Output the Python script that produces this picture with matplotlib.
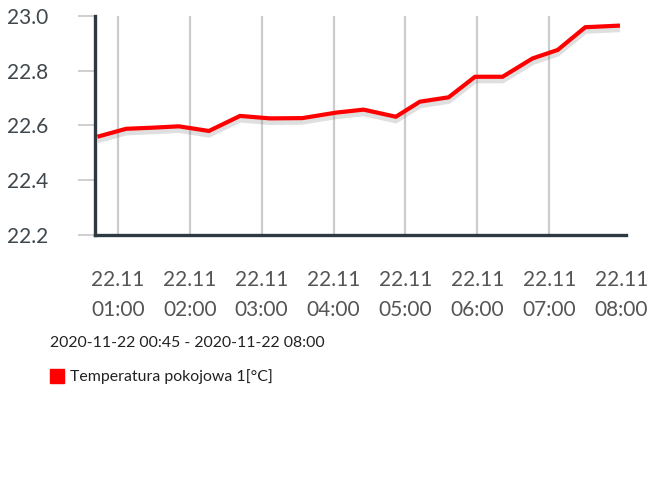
import matplotlib
matplotlib.use("Agg")
import matplotlib.pyplot as plt
import matplotlib.dates as mdates
import matplotlib.patheffects as pe
from matplotlib.patches import Rectangle
from datetime import datetime

plt.rcParams["font.family"] = ["Lato", "DejaVu Sans"]

DAY = "2020-11-22"
TIMES = ["00:43", "01:07", "01:29", "01:51", "02:16", "02:42", "03:07", "03:34",
         "04:02", "04:25", "04:52", "05:12", "05:36", "05:58", "06:21", "06:46",
         "07:07", "07:30", "07:59"]
VALUES = [22.559, 22.588, 22.592, 22.597, 22.580, 22.635, 22.626, 22.627,
          22.647, 22.658, 22.632, 22.687, 22.703, 22.778, 22.778, 22.845,
          22.876, 22.959, 22.965]
TICK_HOURS = ["01:00", "02:00", "03:00", "04:00", "05:00", "06:00", "07:00", "08:00"]
Y_TICKS = [22.2, 22.4, 22.6, 22.8, 23.0]
SERIES_NAME = "Temperatura pokojowa 1[°C]"
RANGE_TEXT = "2020-11-22 00:45 - 2020-11-22 08:00"

LINE_COLOR = "#ff0000"
AXIS_COLOR = "#2e3a42"
GRID_COLOR = "#cccccc"
LABEL_COLOR = "#555555"


def to_dt(hm):
    return datetime.strptime(f"{DAY} {hm}", "%Y-%m-%d %H:%M")


W, H = 656, 478
fig = plt.figure(figsize=(W / 100, H / 100), dpi=100)
ax = fig.add_axes([95 / W, 1 - 235 / H, (626 - 95) / W, (235 - 16) / H])

x = [to_dt(t) for t in TIMES]
ticks = [to_dt(t) for t in TICK_HOURS]

ax.plot(x, VALUES, color=LINE_COLOR, linewidth=3.0, solid_joinstyle="miter",
        solid_capstyle="butt", zorder=3,
        path_effects=[pe.SimpleLineShadow(offset=(0, -2.5), shadow_color="gray",
                                          alpha=0.25, linewidth=4.5),
                      pe.Normal()])

ax.set_xlim(to_dt("00:41"), to_dt("08:04"))
ax.set_ylim(22.2, 23.0)

# vertical grid lines at the hour ticks
for t in ticks[:-1]:
    ax.axvline(t, color=GRID_COLOR, linewidth=1.6, zorder=1)

ax.set_xticks(ticks)
ax.xaxis.set_major_formatter(mdates.DateFormatter("%d.%m\n%H:%M"))
ax.tick_params(axis="x", length=0, pad=25, labelsize=15, labelcolor=LABEL_COLOR)
for lbl in ax.get_xticklabels():
    lbl.set_linespacing(1.65)

ax.set_yticks(Y_TICKS)
ax.set_yticklabels([f"{v:.1f}" for v in Y_TICKS])
ax.tick_params(axis="y", length=12.5, width=1.3, color=GRID_COLOR, pad=21.5,
               labelsize=15, labelcolor="#3f474d")

for side in ("top", "right"):
    ax.spines[side].set_visible(False)
for side in ("left", "bottom"):
    ax.spines[side].set_color(AXIS_COLOR)
    ax.spines[side].set_linewidth(2.4)
ax.set_facecolor("white")

fig.text(50 / W, 1 - 343 / H, RANGE_TEXT, fontsize=11.4, color="#222222",
         ha="left", va="center")
fig.patches.append(Rectangle((50 / W, 1 - 383 / H), 14 / W, 14 / H,
                             transform=fig.transFigure, color=LINE_COLOR))
fig.text(70 / W, 1 - 377 / H, SERIES_NAME, fontsize=11.4, color="#222222",
         ha="left", va="center")

fig.savefig("out.png", dpi=100, facecolor="white")
